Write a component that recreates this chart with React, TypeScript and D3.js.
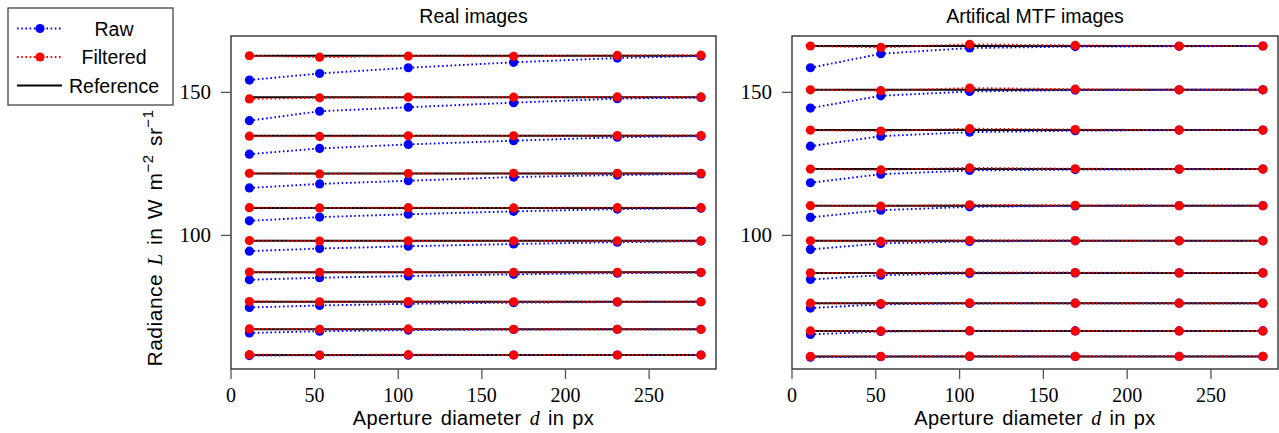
import React, { useEffect } from 'react';
import * as d3 from 'd3';

// aperture diameters (px)
const apertures = [11, 53, 106, 169, 231, 281];
const xTicks = [0, 50, 100, 150, 200, 250];
const yTicks = [100, 150];

// Real images
const refReal = [162.8, 148.3, 134.8, 121.6, 109.6, 98.1, 87.1, 76.8, 67.2, 58.2];
const rawReal = [
  [154.3, 156.6, 158.6, 160.5, 162.0, 162.7],
  [140.1, 143.4, 144.8, 146.4, 147.8, 148.2],
  [128.4, 130.4, 131.8, 133.1, 134.3, 134.7],
  [116.6, 118.0, 119.1, 120.4, 121.1, 121.5],
  [105.1, 106.4, 107.4, 108.4, 109.2, 109.5],
  [94.5, 95.4, 96.2, 97.0, 97.6, 98.0],
  [84.5, 85.2, 85.8, 86.4, 86.8, 87.0],
  [74.8, 75.5, 76.1, 76.5, 76.7, 76.8],
  [65.9, 66.5, 66.9, 67.1, 67.2, 67.2],
  [58.0, 58.1, 58.1, 58.2, 58.2, 58.2],
];
const filteredReal = [
  [162.8, 162.3, 162.7, 162.6, 162.9, 163.0],
  [147.7, 148.1, 148.3, 148.3, 148.4, 148.4],
  [134.7, 134.6, 134.8, 134.8, 134.9, 134.9],
  [121.7, 121.5, 121.6, 121.7, 121.7, 121.7],
  [109.7, 109.6, 109.7, 109.6, 109.7, 109.7],
  [98.2, 98.0, 98.1, 98.1, 98.1, 98.1],
  [87.2, 87.1, 87.1, 87.1, 87.1, 87.1],
  [76.9, 76.8, 76.9, 76.8, 76.8, 76.8],
  [67.3, 67.2, 67.3, 67.2, 67.2, 67.2],
  [58.3, 58.2, 58.3, 58.2, 58.2, 58.2],
];

// Artificial MTF images
const refMtf = [166.2, 150.9, 136.8, 123.2, 110.4, 98.1, 86.9, 76.3, 66.6, 57.7];
const rawMtf = [
  [158.6, 163.5, 165.5, 166.0, 166.1, 166.2],
  [144.5, 148.8, 150.3, 150.8, 150.9, 150.9],
  [131.2, 134.7, 136.1, 136.6, 136.8, 136.8],
  [118.4, 121.4, 122.7, 123.0, 123.1, 123.2],
  [106.3, 108.8, 110.0, 110.3, 110.4, 110.4],
  [95.1, 97.2, 97.9, 98.1, 98.1, 98.1],
  [84.6, 86.1, 86.7, 86.9, 86.9, 86.9],
  [74.6, 75.9, 76.2, 76.3, 76.3, 76.3],
  [65.4, 66.4, 66.6, 66.6, 66.6, 66.6],
  [57.4, 57.6, 57.7, 57.7, 57.7, 57.7],
];
const filteredMtf = [
  [166.2, 165.7, 166.8, 166.4, 166.2, 166.2],
  [150.9, 150.6, 151.5, 151.1, 150.9, 150.9],
  [136.8, 136.5, 137.3, 137.0, 136.8, 136.8],
  [123.2, 122.9, 123.6, 123.3, 123.2, 123.2],
  [110.4, 110.2, 110.7, 110.5, 110.4, 110.4],
  [98.1, 97.9, 98.3, 98.2, 98.1, 98.1],
  [86.9, 86.8, 87.1, 87.0, 86.9, 86.9],
  [76.3, 76.2, 76.4, 76.3, 76.3, 76.3],
  [66.6, 66.6, 66.7, 66.6, 66.6, 66.6],
  [57.7, 57.7, 57.8, 57.7, 57.7, 57.7],
];

const W = 1279;
const H = 433;
const SANS = '"Liberation Sans", Arial, sans-serif';
const SERIF = '"Liberation Serif", "Times New Roman", serif';
const BLUE = '#0000ff';
const RED = '#ff0000';
const DOT = '1.6,2.6';
const R = 4.6;

const top = 36;
const bottom = 369;

function Panel({ left, right, title, refs, raw, filtered }) {
  const x = d3.scaleLinear().domain([0, 290]).range([left, right]);
  const y = d3.scaleLinear().domain([53.3, 169.7]).range([bottom, top]);
  const line = d3
    .line<number>()
    .x((_, i) => x(apertures[i]))
    .y((d) => y(d));
  const cx = (left + right) / 2;

  return (
    <g>
      <text x={cx} y={23} textAnchor="middle" fontFamily={SANS} fontSize={19.5}>
        {title}
      </text>
      {refs.map((v, i) => (
        <line
          key={'r' + i}
          x1={x(apertures[0])}
          x2={x(apertures[apertures.length - 1])}
          y1={y(v)}
          y2={y(v)}
          stroke="#000"
          strokeWidth={2}
        />
      ))}
      {raw.map((s, i) => (
        <g key={'w' + i}>
          <path d={line(s) || ''} fill="none" stroke={BLUE} strokeWidth={1.9} strokeDasharray={DOT} />
          {s.map((v, j) => (
            <circle key={j} cx={x(apertures[j])} cy={y(v)} r={R} fill={BLUE} />
          ))}
        </g>
      ))}
      {filtered.map((s, i) => (
        <g key={'f' + i}>
          <path d={line(s) || ''} fill="none" stroke={RED} strokeWidth={1.9} strokeDasharray={DOT} />
          {s.map((v, j) => (
            <circle key={j} cx={x(apertures[j])} cy={y(v)} r={R} fill={RED} />
          ))}
        </g>
      ))}
      <rect x={left} y={top} width={right - left} height={bottom - top} fill="none" stroke="#222" strokeWidth={1.3} />
      {xTicks.map((t) => (
        <g key={'xt' + t}>
          <line x1={x(t)} x2={x(t)} y1={bottom} y2={bottom + 10} stroke="#555" strokeWidth={1.3} />
          <text x={x(t)} y={402} textAnchor="middle" fontFamily={SERIF} fontSize={20}>
            {t}
          </text>
        </g>
      ))}
      {yTicks.map((t) => (
        <g key={'yt' + t}>
          <line x1={left - 10} x2={left} y1={y(t)} y2={y(t)} stroke="#555" strokeWidth={1.3} />
          <text x={left - 20} y={y(t) + 7} textAnchor="end" fontFamily={SERIF} fontSize={21}>
            {t}
          </text>
        </g>
      ))}
      <text x={cx} y={425} textAnchor="middle" fontFamily={SANS} fontSize={20} letterSpacing={0.4} wordSpacing={2}>
        Aperture diameter{' '}
        <tspan fontFamily={SERIF} fontStyle="italic">d</tspan> in px
      </text>
    </g>
  );
}

function Legend() {
  const entries = [
    { label: 'Raw', color: BLUE, dotted: true },
    { label: 'Filtered', color: RED, dotted: true },
    { label: 'Reference', color: '#000', dotted: false },
  ];
  return (
    <g>
      <rect x={8} y={8} width={165} height={97} fill="#fff" stroke="#444" strokeWidth={1.3} />
      {entries.map((e, i) => {
        const yy = 28.5 + i * 28.5;
        return (
          <g key={e.label}>
            <line
              x1={17}
              x2={62}
              y1={yy}
              y2={yy}
              stroke={e.color}
              strokeWidth={e.dotted ? 1.9 : 2}
              strokeDasharray={e.dotted ? DOT : undefined}
            />
            {e.dotted && <circle cx={40} cy={yy} r={R} fill={e.color} />}
            <text x={114} y={yy + 7} textAnchor="middle" fontFamily={SANS} fontSize={19.5}>
              {e.label}
            </text>
          </g>
        );
      })}
    </g>
  );
}

export default function App() {
  useEffect(() => {
    document.body.style.margin = '0';
  }, []);

  return (
    <svg width={W} height={H} viewBox={`0 0 ${W} ${H}`} style={{ display: 'block', background: '#fff' }}>
      <Panel left={231} right={716} title="Real images" refs={refReal} raw={rawReal} filtered={filteredReal} />
      <Panel
        left={792}
        right={1278}
        title="Artifical MTF images"
        refs={refMtf}
        raw={rawMtf}
        filtered={filteredMtf}
      />
      <text
        transform="translate(162,238) rotate(-90)"
        textAnchor="middle"
        fontFamily={SANS}
        fontSize={21}
        wordSpacing={2}
        letterSpacing={0.5}
      >
        Radiance <tspan fontFamily={SERIF} fontStyle="italic">L</tspan> in W m
        <tspan fontSize={15} dy={-9}>−2</tspan>
        <tspan dy={9}> sr</tspan>
        <tspan fontSize={15} dy={-9}>−1</tspan>
      </text>
      <Legend />
    </svg>
  );
}
